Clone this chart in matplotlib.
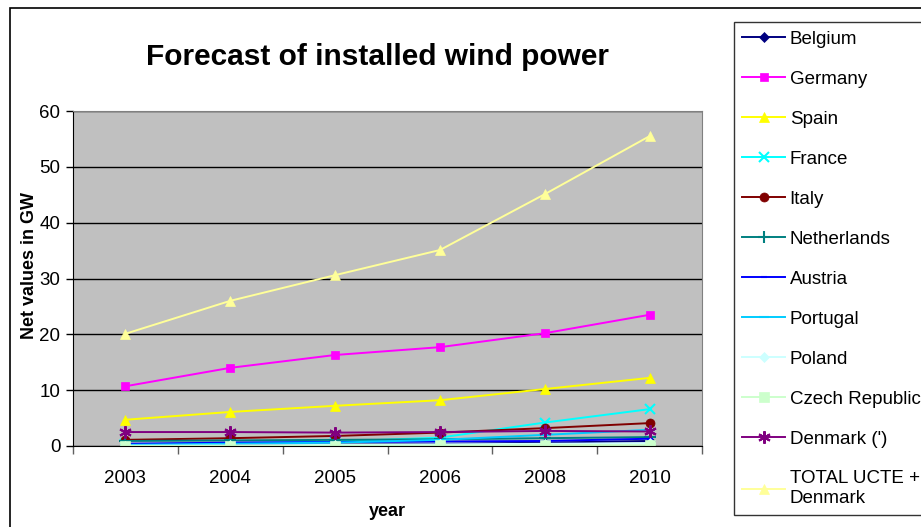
import numpy as np
import matplotlib
matplotlib.use('Agg')
import matplotlib.pyplot as plt
from matplotlib.patches import Rectangle

plt.rcParams['font.family'] = ['Liberation Sans', 'DejaVu Sans']

# Dữ liệu (GW)
years = ['2003', '2004', '2005', '2006', '2008', '2010']
belgium = [0.1, 0.15, 0.25, 0.35, 0.6, 0.9]
germany = [10.7, 14.0, 16.3, 17.7, 20.2, 23.5]
spain = [4.7, 6.1, 7.2, 8.2, 10.2, 12.2]
france = [0.3, 0.5, 0.8, 1.5, 4.2, 6.6]
italy = [1.1, 1.4, 1.8, 2.4, 3.2, 4.1]
netherlands = [0.9, 1.0, 1.1, 1.2, 1.4, 1.6]
austria = [0.4, 0.6, 0.7, 0.8, 0.9, 1.3]
portugal = [0.2, 0.4, 0.6, 1.1, 2.0, 2.9]
poland = [0.05, 0.1, 0.2, 0.3, 0.4, 0.5]
czech = [0.0, 0.02, 0.05, 0.1, 0.15, 0.2]
denmark = [2.5, 2.5, 2.4, 2.5, 2.7, 2.6]
total = [20.1, 26.0, 30.6, 35.1, 45.1, 55.5]

series = [
    ('Belgium', belgium, '#000080', 'D', 5),
    ('Germany', germany, '#FF00FF', 's', 6),
    ('Spain', spain, '#FFFF00', '^', 7.5),
    ('France', france, '#00FFFF', 'x', 7),
    ('Italy', italy, '#800000', 'o', 6.5),
    ('Netherlands', netherlands, '#008080', '+', 8),
    ('Austria', austria, '#0000FF', '_', 5),
    ('Portugal', portugal, '#00CCFF', '_', 7),
    ('Poland', poland, '#CCFFFF', 'D', 5.5),
    ('Czech Republic', czech, '#CCFFCC', 's', 6.5),
    ("Denmark (')", denmark, '#800080', (6, 2, 0), 9),
    ('TOTAL UCTE +\nDenmark', total, '#FFFF99', '^', 7.5),
]

fig = plt.figure(figsize=(9.21, 5.27), dpi=100)
ax = fig.add_axes([73 / 921, 81 / 527, 629 / 921, 335 / 527])
ax.set_facecolor('#C0C0C0')

x = np.arange(len(years))
for name, vals, col, mk, ms in series:
    thin = mk in ('x', '+', '_') or isinstance(mk, tuple)
    ax.plot(x, vals, color=col, marker=mk, markersize=ms, linewidth=1.4,
            markeredgewidth=1.5 if thin else 0.5,
            markeredgecolor=col, label=name)

ax.set_xlim(-0.5, len(years) - 0.5)
ax.set_ylim(0, 60)
ax.set_yticks(range(0, 61, 10))
ax.set_xticks(x)
ax.set_xticklabels(years)
ax.set_xticks(np.arange(-0.5, len(years)), minor=True)
ax.tick_params(axis='x', which='major', length=0, pad=17, labelsize=13.5)
ax.tick_params(axis='x', which='minor', length=6, width=1, color='#606060')
ax.tick_params(axis='y', length=5, width=1, pad=4, labelsize=13.5)
ax.grid(axis='y', color='black', linewidth=1)
ax.set_axisbelow(True)

for s in ['left', 'bottom']:
    ax.spines[s].set_color('black')
for s in ['top', 'right']:
    ax.spines[s].set_color('#808080')

ax.set_xlabel('year', fontsize=13, fontweight='bold')
ax.xaxis.set_label_coords(0.5, -0.17)
ax.set_ylabel('Net values in GW', fontsize=13, fontweight='bold')
ax.yaxis.set_label_coords(-0.055, 0.54)

fig.text(377 / 921, 1 - 57 / 527, 'Forecast of installed wind power',
         fontsize=21.5, fontweight='bold', ha='center', va='center')

# Khung ngoài của biểu đồ
fig.add_artist(Rectangle((10 / 921, -0.1), 1.1, 1.1 - 8 / 527,
                         transform=fig.transFigure, fill=False,
                         edgecolor='black', linewidth=1.2, clip_on=False))

leg = fig.legend(loc='upper left', bbox_to_anchor=(734 / 921, 1 - 22 / 527),
                 frameon=True, fancybox=False, fontsize=13.5, handlelength=2.25,
                 handletextpad=0.27, labelspacing=1.22, borderpad=0.45,
                 borderaxespad=0)
leg.get_frame().set_edgecolor('black')
leg.get_frame().set_linewidth(1)

fig.savefig('out.png', dpi=100)
